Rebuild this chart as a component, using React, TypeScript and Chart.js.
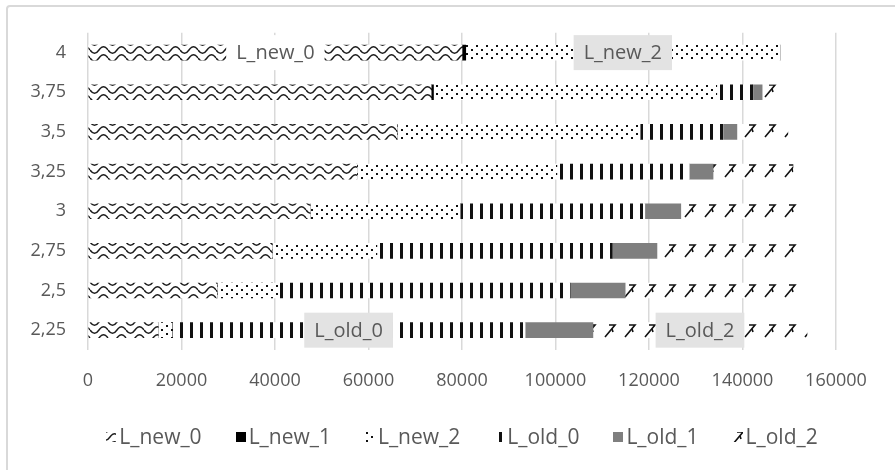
import React, { useEffect, useRef } from 'react';
import { Chart, registerables } from 'chart.js';

Chart.register(...registerables);

// ---- data ----
const categories = ['4', '3,75', '3,5', '3,25', '3', '2,75', '2,5', '2,25'];
const seriesNames = ['L_new_0', 'L_new_1', 'L_new_2', 'L_old_0', 'L_old_1', 'L_old_2'];
const lNew0 = [80000, 73400, 66100, 57500, 47500, 39400, 27600, 15000];
const lNew1 = [800, 500, 0, 0, 0, 0, 0, 0];
const lNew2 = [67200, 60600, 52000, 42800, 32100, 22400, 13000, 3000];
const lOld0 = [0, 7700, 17700, 28300, 39500, 50300, 62500, 75500];
const lOld1 = [0, 2000, 3000, 5100, 7700, 9600, 11800, 14500];
const lOld2 = [0, 4500, 10900, 17100, 24900, 30200, 38000, 45800];
const xMin = 0;
const xMax = 160000;
const xStep = 20000;
// bars that carry a series-name label
const labelSeries = ['L_new_0', 'L_new_2', 'L_old_0', 'L_old_2'];
const labelCategories = ['4', '4', '2,25', '2,25'];

const FONT = '"Open Sans", "Liberation Sans", sans-serif';
const TEXT = '#595959';
const labelBg: Record<string, string> = {
  L_new_0: '#ffffff',
  L_new_2: '#e3e3e3',
  L_old_0: '#e3e3e3',
  L_old_2: '#e3e3e3',
};

function makePattern(w: number, h: number, draw: (g: CanvasRenderingContext2D) => void): CanvasPattern {
  const c = document.createElement('canvas');
  c.width = w;
  c.height = h;
  const g = c.getContext('2d') as CanvasRenderingContext2D;
  g.fillStyle = '#ffffff';
  g.fillRect(0, 0, w, h);
  draw(g);
  return g.createPattern(c, 'repeat') as CanvasPattern;
}

function buildFills() {
  const wave = makePattern(18, 8, (g) => {
    g.strokeStyle = '#1a1a1a';
    g.lineWidth = 1.4;
    g.beginPath();
    g.moveTo(0, 2);
    g.quadraticCurveTo(4.5, 8.5, 9, 2);
    g.quadraticCurveTo(13.5, -4.5, 18, 2);
    g.stroke();
    g.beginPath();
    g.moveTo(0, 10);
    g.quadraticCurveTo(4.5, 16.5, 9, 10);
    g.stroke();
    g.beginPath();
    g.moveTo(9, 10);
    g.quadraticCurveTo(13.5, 3.5, 18, 10);
    g.stroke();
  });
  const dots = makePattern(10, 8, (g) => {
    g.fillStyle = '#111111';
    g.fillRect(1, 1, 2, 2);
    g.fillRect(6, 5, 2, 2);
  });
  const vlines = makePattern(10, 16, (g) => {
    g.fillStyle = '#111111';
    g.fillRect(0, 0, 3, 16);
  });
  const zig = makePattern(20, 20, (g) => {
    g.strokeStyle = '#111111';
    g.lineWidth = 1.6;
    g.beginPath();
    g.moveTo(9, 5);
    g.lineTo(15, 5);
    g.lineTo(5, 17);
    g.stroke();
    g.beginPath();
    g.moveTo(12, 9);
    g.lineTo(13, 12);
    g.stroke();
  });
  return [wave, '#000000', dots, vlines, '#7f7f7f', zig];
}

const dataLabelPlugin = {
  id: 'seriesNameLabels',
  afterDatasetsDraw(chart: any) {
    const ctx = chart.ctx as CanvasRenderingContext2D;
    ctx.save();
    ctx.font = `20px ${FONT}`;
    ctx.textAlign = 'center';
    ctx.textBaseline = 'middle';
    labelSeries.forEach((name, i) => {
      const dsIndex = seriesNames.indexOf(name);
      const catIndex = categories.indexOf(labelCategories[i]);
      const el = chart.getDatasetMeta(dsIndex).data[catIndex];
      if (!el) return;
      const cx = (el.x + el.base) / 2;
      const cy = el.y;
      const tw = ctx.measureText(name).width;
      const bw = tw + 20;
      const bh = 35;
      ctx.fillStyle = labelBg[name] || '#e3e3e3';
      ctx.fillRect(cx - bw / 2, cy - bh / 2, bw, bh);
      ctx.fillStyle = TEXT;
      ctx.fillText(name, cx, cy + 1);
    });
    ctx.restore();
  },
};

const legendPlugin = {
  id: 'bottomLegend',
  afterDraw(chart: any) {
    const ctx = chart.ctx as CanvasRenderingContext2D;
    const area = chart.chartArea;
    ctx.save();
    ctx.font = `21px ${FONT}`;
    ctx.textBaseline = 'middle';
    const box = 10;
    const gapBox = 3;
    const gapItem = 34;
    const widths = chart.data.datasets.map((d: any) => ctx.measureText(d.label).width);
    const total =
      widths.reduce((a: number, b: number) => a + b, 0) +
      widths.length * (box + gapBox) +
      (widths.length - 1) * gapItem;
    let x = (area.left + area.right) / 2 - total / 2;
    const y = 437;
    chart.data.datasets.forEach((d: any, i: number) => {
      ctx.save();
      ctx.translate(Math.round(x) - 5, Math.round(y - box / 2) - 5);
      ctx.fillStyle = d.backgroundColor;
      ctx.fillRect(5, 5, box, box);
      ctx.restore();
      ctx.fillStyle = TEXT;
      ctx.fillText(d.label, x + box + gapBox, y + 1);
      x += box + gapBox + widths[i] + gapItem;
    });
    ctx.restore();
  },
};

export default function App() {
  const ref = useRef<HTMLCanvasElement | null>(null);

  useEffect(() => {
    if (!ref.current) return;
    const fills = buildFills();
    const values = [lNew0, lNew1, lNew2, lOld0, lOld1, lOld2];
    const chart = new Chart(ref.current, {
      type: 'bar',
      data: {
        labels: categories,
        datasets: seriesNames.map((name, i) => ({
          label: name,
          data: values[i],
          backgroundColor: fills[i] as any,
          borderWidth: 0,
          barThickness: 15,
        })),
      },
      options: {
        indexAxis: 'y',
        responsive: false,
        animation: false,
        events: [],
        layout: { padding: { left: 0, top: 32, right: 59, bottom: 60 } },
        plugins: {
          legend: { display: false },
          tooltip: { enabled: false },
        },
        scales: {
          x: {
            stacked: true,
            min: xMin,
            max: xMax,
            ticks: {
              stepSize: xStep,
              color: TEXT,
              font: { family: FONT, size: 18 },
              padding: 20,
              maxRotation: 0,
              callback: (v: any) => String(v),
            },
            grid: { color: '#d9d9d9', lineWidth: 1.5, drawTicks: false },
            border: { display: false },
            afterFit(scale: any) {
              scale.height = 60;
            },
          },
          y: {
            stacked: true,
            ticks: {
              color: TEXT,
              font: { family: FONT, size: 18 },
              padding: 22,
            },
            grid: { display: false, drawTicks: false },
            border: { display: false },
            afterFit(scale: any) {
              scale.width = 88;
            },
          },
        },
      },
      plugins: [dataLabelPlugin, legendPlugin],
    });
    return () => chart.destroy();
  }, []);

  return (
    <div style={{ position: 'absolute', left: 0, top: 0, width: 895, height: 470, overflow: 'hidden', background: '#ffffff' }}>
      <div
        style={{
          position: 'absolute',
          left: 6,
          top: 5,
          width: 1000,
          height: 600,
          border: '2px solid #d9d9d9',
          borderRadius: 4,
          boxSizing: 'border-box',
        }}
      />
      <canvas ref={ref} width={895} height={470} style={{ position: 'absolute', left: 0, top: 0, width: 895, height: 470 }} />
    </div>
  );
}
